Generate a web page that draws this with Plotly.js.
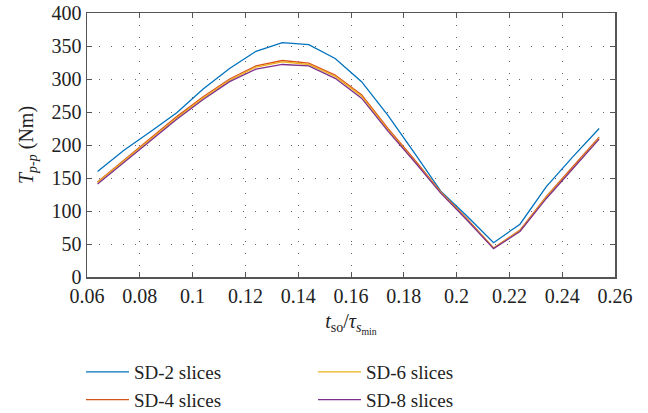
<!DOCTYPE html>
<html>
<head>
<meta charset="utf-8">
<script src="https://cdn.plot.ly/plotly-3.0.1.min.js"></script>
<style>html,body{margin:0;padding:0;background:#fff;}#chart{width:648px;height:413px;}</style>
</head>
<body>
<div id="chart"></div>
<script>
const xValues = [0.064,0.074,0.084,0.094,0.104,0.114,0.124,0.134,0.144,0.154,0.164,0.174,0.184,0.194,0.204,0.214,0.224,0.234,0.244,0.254];
const sd2 = [160,192,220,249,285,316,342,355,352,331,296,245,188,130,92,52,80,137,182,225];
const sd4 = [144,177,210,243,273,300,320,328,324,306,276,225,178,129,88,44,71,122,167,212];
const sd6 = [143,176,208,241,271,298,318,326,322,304,274,223,176,128,87,44,70,121,165,210];
const sd8 = [141,174,206,239,269,296,315,322,320,301,271,221,175,127,86,43,69,119,164,209];
const seriesNames = ["SD-2 slices","SD-4 slices","SD-6 slices","SD-8 slices"];
const xTicks = [0.06,0.08,0.1,0.12,0.14,0.16,0.18,0.2,0.22,0.24,0.26];
const xTickText = ["0.06","0.08","0.1","0.12","0.14","0.16","0.18","0.2","0.22","0.24","0.26"];
const yTicks = [0,50,100,150,200,250,300,350,400];

const colors = ["#0072BD","#D95319","#EDB120","#7E2F8E"];
const ranks = [1,3,2,4];
const ys = [sd2, sd4, sd6, sd8];
const traces = ys.map((y,i)=>({
  x: xValues, y: y, type: 'scatter', mode: 'lines', name: seriesNames[i],
  line: {color: colors[i], width: 1.3}, legendrank: ranks[i]
}));

const font = "Liberation Serif, Times New Roman, Times, serif";
const axisCommon = {
  showline: true, linecolor: '#555', linewidth: 1.5, mirror: 'ticks',
  ticks: 'inside', ticklen: 5, tickwidth: 1, tickcolor: '#555',
  showgrid: true, gridcolor: '#666', gridwidth: 1, griddash: '1px,11px',
  zeroline: false, automargin: false, tickfont: {family: font, size: 20, color: '#222'}
};
const layout = {
  width: 648, height: 413,
  margin: {l: 87, r: 33, t: 13, b: 136},
  paper_bgcolor: '#fff', plot_bgcolor: '#fff',
  font: {family: font, color: '#222'},
  showlegend: true,
  xaxis: Object.assign({}, axisCommon, {
    range: [0.06, 0.26], tickvals: xTicks, ticktext: xTickText,
    title: {text: "<i>t</i><sub>so</sub>/<i>τ</i><sub><i>s</i><sub>min</sub></sub>", font: {family: font, size: 20, color: '#222'}, standoff: 8}
  }),
  yaxis: Object.assign({}, axisCommon, {
    range: [0, 400], tickvals: yTicks,
    title: {text: "<i>T</i><sub><i>p-p</i></sub> (Nm)", font: {family: font, size: 20, color: '#222'}, standoff: 12}
  }),
  legend: {
    orientation: 'h', xref: 'container', yref: 'container',
    x: 0.125, xanchor: 'left', y: 0.145, yanchor: 'top',
    entrywidth: 174, entrywidthmode: 'pixels',
    font: {family: font, size: 19, color: '#222'},
    traceorder: 'normal', itemwidth: 43, tracegroupgap: 0
  }
};
Plotly.newPlot('chart', traces, layout, {displayModeBar: false, staticPlot: true});
</script>
</body>
</html>
